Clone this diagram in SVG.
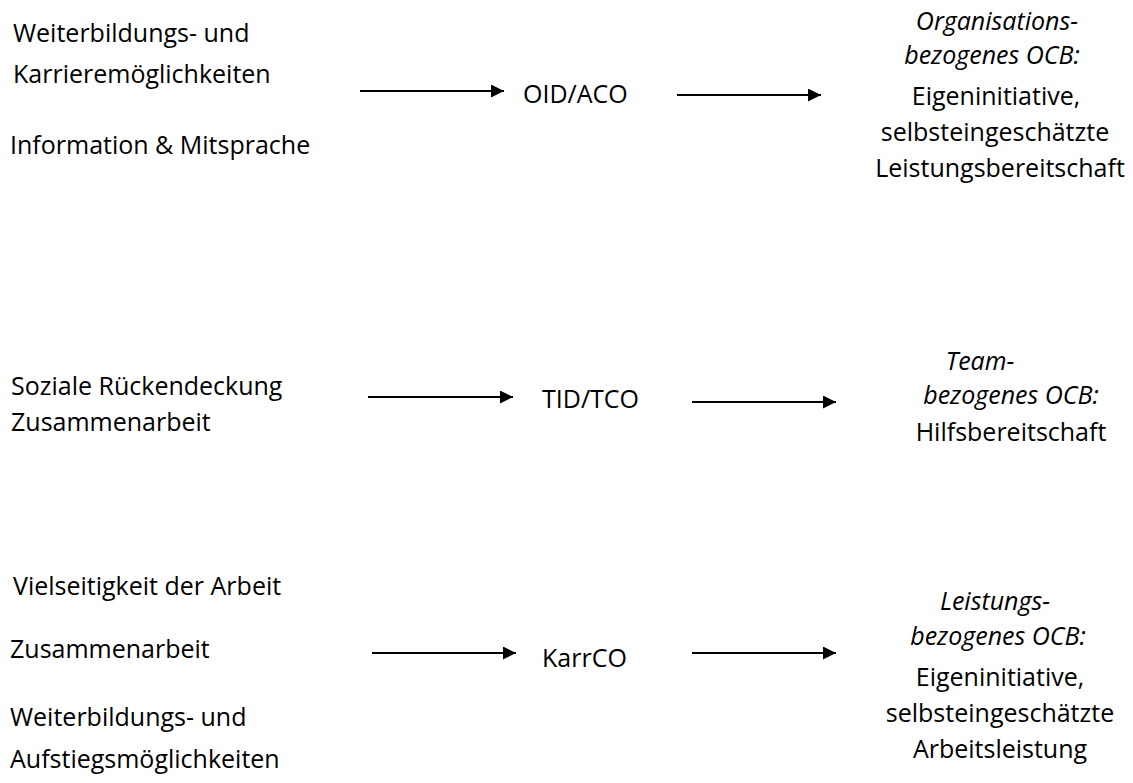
<svg xmlns="http://www.w3.org/2000/svg" width="1133" height="783" viewBox="0 0 1133 783">
<defs>
<style>
text{font-family:"Open Sans","Noto Sans",sans-serif;font-size:25px;fill:#000}
.it{font-style:italic}
.c{text-anchor:middle}
.arr{stroke:#000;stroke-width:2;fill:none;marker-end:url(#ah)}
</style>
<marker id="ah" viewBox="0 0 10 10" refX="10" refY="5" markerWidth="7.5" markerHeight="6.5" markerUnits="strokeWidth" orient="auto">
<path d="M0,0 L10,5 L0,10 z" fill="#000"/>
</marker>
</defs>
<rect width="1133" height="783" fill="#fff"/>
<g id="connectors">
<line class="arr" x1="360" y1="91" x2="504" y2="91"/>
<line class="arr" x1="677" y1="95" x2="821" y2="95"/>
<line class="arr" x1="368" y1="397" x2="513" y2="397"/>
<line class="arr" x1="692" y1="402" x2="836" y2="402"/>
<line class="arr" x1="372" y1="653" x2="516" y2="653"/>
<line class="arr" x1="692" y1="653" x2="836" y2="653"/>
</g>
<g id="antecedents-org">
<text x="13" y="42">Weiterbildungs- und</text>
<text x="13" y="83">Karrieremöglichkeiten</text>
<text x="10" y="154">Information &amp; Mitsprache</text>
</g>
<g id="antecedents-team">
<text x="11" y="395">Soziale Rückendeckung</text>
<text x="11" y="431">Zusammenarbeit</text>
</g>
<g id="antecedents-career">
<text x="13" y="595">Vielseitigkeit der Arbeit</text>
<text x="10" y="658">Zusammenarbeit</text>
<text x="10" y="726">Weiterbildungs- und</text>
<text x="10" y="768">Aufstiegsmöglichkeiten</text>
</g>
<g id="node-oid"><text x="523" y="103">OID/ACO</text></g>
<g id="node-tid"><text x="542" y="408">TID/TCO</text></g>
<g id="node-karr"><text x="542" y="667">KarrCO</text></g>
<g id="outcome-org">
<text class="it c" x="997" y="30">Organisations-</text>
<text class="it c" x="992" y="64">bezogenes OCB:</text>
<text class="c" x="996" y="105">Eigeninitiative,</text>
<text class="c" x="995" y="141">selbsteingeschätzte</text>
<text class="c" x="1000" y="177">Leistungsbereitschaft</text>
</g>
<g id="outcome-team">
<text class="it c" x="980" y="370">Team-</text>
<text class="it c" x="1011" y="404">bezogenes OCB:</text>
<text class="c" x="1011" y="441">Hilfsbereitschaft</text>
</g>
<g id="outcome-career">
<text class="it c" x="995" y="610">Leistungs-</text>
<text class="it c" x="998" y="645">bezogenes OCB:</text>
<text class="c" x="1000" y="686">Eigeninitiative,</text>
<text class="c" x="1000" y="722">selbsteingeschätzte</text>
<text class="c" x="1000" y="758">Arbeitsleistung</text>
</g>
</svg>
